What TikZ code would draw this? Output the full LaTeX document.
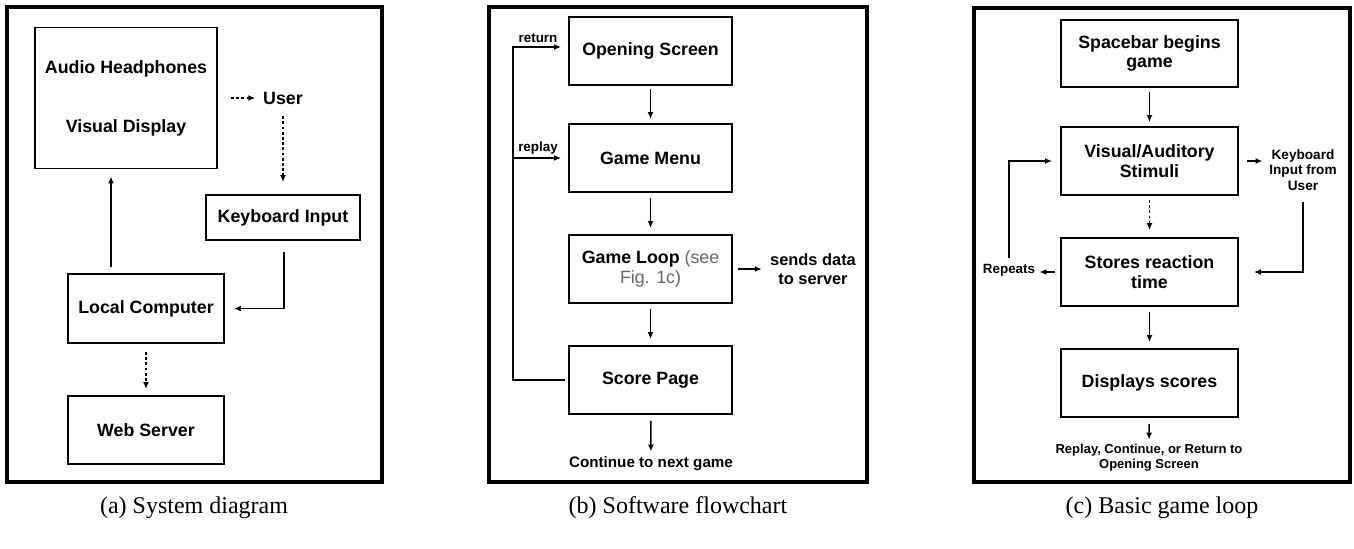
\documentclass[tikz,border=0pt]{standalone}
\usepackage{fontspec}
\setmainfont{Liberation Serif}
\newfontfamily\hel{Liberation Sans}
\usetikzlibrary{arrows.meta, positioning, calc}
\newcommand{\lite}[1]{{\mdseries\color{black!60}#1}}

\begin{document}
\begin{tikzpicture}[x=0.5pt, y=-0.5pt,
        frame/.style={line width=1.7pt},
        blk/.style={draw, line width=0.95pt, align=center, inner sep=0pt,
            font=\hel\bfseries\fontsize{8.9}{9.8}\selectfont},
        lbl/.style={inner sep=0pt, align=center,
            font=\hel\bfseries\fontsize{6.7}{7.7}\selectfont},
        arr/.style={-{Latex[length=3.5pt,width=3pt]}, line width=0.75pt},
        dotarr/.style={arr, dash pattern=on 1.4pt off 1.2pt},
        subcap/.style={font=\fontsize{12}{14}\selectfont}]
        \useasboundingbox (0,0) rectangle (1354,548);

        % (a) System diagram
        \draw[frame] (7,7) rectangle (382,482);
        \node[blk, minimum width=91pt, minimum height=70.5pt] (av) at (126,98) {Audio Headphones\\[19.8pt]Visual Display};
        \node[lbl, font=\hel\bfseries\fontsize{8.9}{9.8}\selectfont] (user) at (283,98) {User};
        \node[blk, minimum width=77pt, minimum height=22.5pt] (kb) at (283,217.5) {Keyboard Input};
        \node[blk, minimum width=78pt, minimum height=34.5pt] (lc) at (146,308.5) {Local Computer};
        \node[blk, minimum width=78pt, minimum height=34pt] (ws) at (146,430) {Web Server};

        \draw[dotarr, shorten >=3.75pt] ([xshift=6.5pt]av.east) -- (user.west);
        \draw[dotarr, shorten <=5.8pt, shorten >=6pt] (user) -- (kb);
        \draw[arr, shorten <=5.5pt, shorten >=4.5pt] ([xshift=0.5pt]kb.south) |- (lc.east);
        \draw[arr, shorten <=3pt, shorten >=3.5pt] ([xshift=-17.5pt]lc.north) -- ([xshift=-7.5pt]av.south);
        \draw[dotarr, shorten <=4pt, shorten >=3pt] (lc) -- (ws);

        \node[subcap] (capa) at (194,508) {(a) System diagram};

        % (b) Software flowchart
        \draw[frame] (489,7) rectangle (867,482);
        \node[blk, minimum width=81.5pt, minimum height=34pt] (os) at (650.5,51) {Opening Screen};
        \node[blk, minimum width=81.5pt, minimum height=34pt] (gm) at (650.5,158) {Game Menu};
        \node[blk, minimum width=81.5pt, minimum height=34pt] (gl) at (650.5,269) {Game Loop \lite{(see}\\\lite{Fig. 1c)}};
        \node[blk, minimum width=81.5pt, minimum height=34pt] (sp) at (650.5,380) {Score Page};
        \node[lbl, font=\hel\bfseries\fontsize{7.6}{9}\selectfont] (next) at (651,464) {Continue to next game};
        \node[lbl, font=\hel\bfseries\fontsize{8.2}{9.5}\selectfont] (send) at (813,269.5) {sends data\\to server};
        \node[lbl] (ret) at (538,38) {return};
        \node[lbl] (rpl) at (538,148) {replay};
        \coordinate (bus) at (513,380);

        \draw[arr, shorten <=1.5pt, shorten >=2pt] (os) -- (gm);
        \draw[arr, shorten <=2.5pt, shorten >=3pt] (gm) -- (gl);
        \draw[arr, shorten <=2.5pt, shorten >=3pt] (gl) -- (sp);
        \draw[arr, shorten <=3pt, shorten >=2.5pt] (sp) -- (next);
        \draw[arr, shorten <=2.5pt, shorten >=4pt] (gl.east) -- (gl.east -| send.west);
        \draw[arr, shorten >=3.5pt] ([xshift=-1.5pt]sp.west) -- (bus) |- ([yshift=2pt]os.west);
        \draw[arr, shorten >=3.5pt] (bus |- gm.west) -- (gm.west);

        \node[subcap] (capb) at (678,508) {(b) Software flowchart};

        % (c) Basic game loop
        \draw[frame] (974,8) rectangle (1350,482);
        \node[blk, minimum width=88.5pt, minimum height=33.5pt] (sb) at (1149.5,53.5) {Spacebar begins\\game};
        \node[blk, minimum width=88.5pt, minimum height=34pt] (va) at (1149.5,161) {Visual/Auditory\\Stimuli};
        \node[blk, minimum width=88.5pt, minimum height=34pt] (sr) at (1149.5,272) {Stores reaction\\time};
        \node[blk, minimum width=88.5pt, minimum height=34pt] (ds) at (1149.5,383) {Displays scores};
        \node[lbl, font=\hel\bfseries\fontsize{6.5}{7.5}\selectfont] (out) at (1149,457.5) {Replay, Continue, or Return to\\Opening Screen};
        \node[lbl, font=\hel\bfseries\fontsize{6.8}{7.8}\selectfont] (kbu) at (1303,170) {Keyboard\\Input from\\User};
        \node[lbl] (rep) at (1009,270) {Repeats};

        \draw[arr, shorten <=2pt, shorten >=2pt] (sb) -- (va);
        \draw[dotarr, shorten <=2pt, shorten >=3.5pt] (va) -- (sr);
        \draw[arr, shorten <=2.5pt, shorten >=3pt] (sr) -- (ds);
        \draw[arr, shorten <=3pt, shorten >=2pt] (ds) -- (out);
        \draw[arr, shorten <=4pt, shorten >=3.25pt] (va.east) -- (va.east -| kbu.west);
        \draw[arr, shorten <=5.5pt, shorten >=7.5pt] (kbu.south) |- (sr.east);
        \draw[arr, shorten <=2.5pt, shorten >=2pt] (sr.west) -- (sr.west -| rep.east);
        \draw[arr, shorten <=3pt, shorten >=4pt] (rep.north) |- (va.west);

        \node[subcap] (capc) at (1162,508) {(c) Basic game loop};
    \end{tikzpicture}
\end{document}
